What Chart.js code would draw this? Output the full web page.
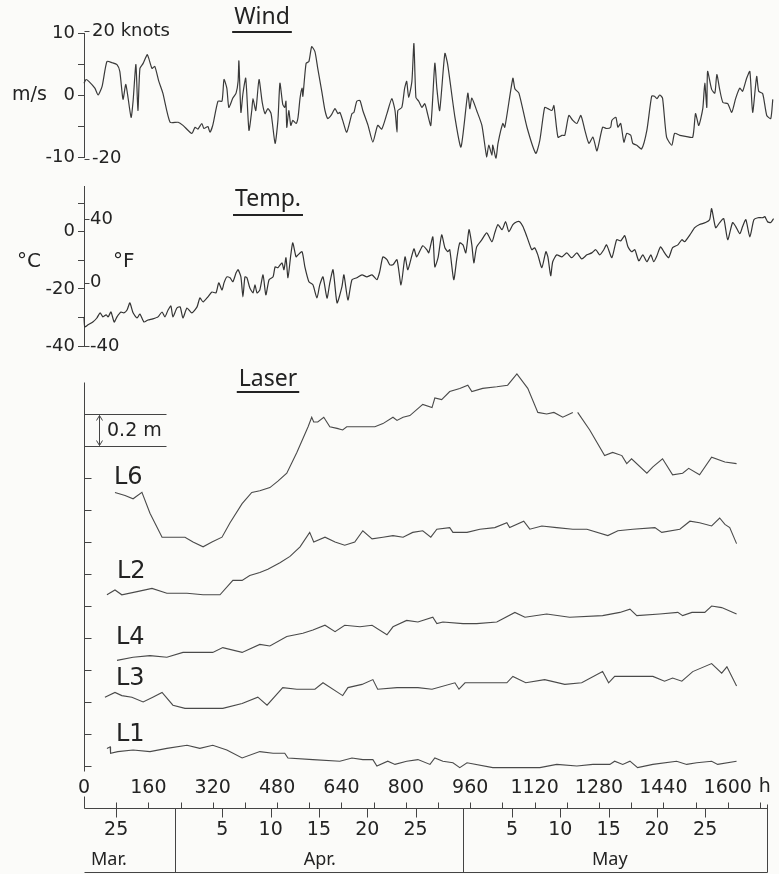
<!DOCTYPE html>
<html>
<head>
<meta charset="utf-8">
<title>Wind, temperature and laser records</title>
<script src="https://cdn.jsdelivr.net/npm/chart.js@4.4.1/dist/chart.umd.min.js"></script>
<style>
  body { margin: 0; background: #fbfbf9; }
  #page { position: relative; width: 779px; height: 874px; overflow: hidden; }
  #page canvas { position: absolute; left: 0; }
</style>
</head>
<body>
<div id="page">
  <canvas id="wind-chart" width="779" height="200" style="top:0"></canvas>
  <canvas id="temp-chart" width="779" height="220" style="top:160px"></canvas>
  <canvas id="laser-chart" width="779" height="514" style="top:360px"></canvas>
</div>
<script>
// --- dados (tempo em horas desde o inicio) ---
const windHours = [0,5,12,27,35,45,57,70,82,89,
  97,104,117,122,129,134,139,147,157,161,
  169,176,186,196,214,234,246,268,276,283,
  293,298,308,313,320,333,343,348,355,360,
  370,378,383,385,390,395,402,410,417,420,
  427,435,443,450,457,465,475,482,487,494,
  499,502,504,509,514,519,527,532,537,542,
  544,552,559,566,574,581,591,599,606,614,
  624,631,636,643,653,666,671,678,686,693,
  706,718,730,740,753,765,773,778,780,790,
  797,802,807,815,820,825,832,840,847,852,
  862,872,877,884,897,904,922,937,954,959,
  964,976,989,1001,1006,1014,1016,1024,1029,1041,
  1046,1066,1071,1081,1101,1123,1133,1145,1153,1163,
  1168,1178,1188,1195,1205,1215,1225,1235,1245,1255,
  1265,1275,1289,1299,1309,1312,1322,1327,1334,1342,
  1349,1359,1364,1374,1386,1399,1411,1418,1424,1431,
  1438,1448,1461,1468,1481,1498,1513,1520,1528,1538,
  1543,1548,1550,1560,1568,1573,1580,1588,1600,1610,
  1620,1630,1637,1647,1655,1662,1672,1677,1687,1697,
  1707,1712];
const windMs = [1.9,2.5,2.2,1.1,0,1.4,5.4,5.2,4.9,3.8,
  -0.7,1.7,-3.6,-1,4.9,-2.5,4.3,5.1,6.5,5.9,
  4.3,4.6,2.2,0.3,-4.4,-4.4,-4.9,-6.2,-5.2,-5.5,
  -4.6,-5.4,-5.1,-6,-4.9,-1,-1,2.5,1.1,-2,
  -0.5,0.3,2.2,5.5,-2.8,0.2,2.7,-5.7,-2.5,-0.6,
  -2.5,2.5,-1.2,-3,-2.2,-3,-7.8,-4.1,1.9,-1.5,
  -2,-1,-5.2,-2.5,-4.9,-4.1,-4.6,-3.6,-0.5,1.1,
  -0.2,5.1,5.4,7.8,7,4.3,0.6,-2.5,-3.8,-3.3,
  -2.2,-3,-2.8,-4.1,-6,-3,-2.8,-1,-0.9,-2.5,
  -4.9,-7.6,-4.9,-5.5,-3,-0.6,-2.5,-6,-2.5,-2,
  1.1,2.2,-0.4,2.2,8.3,-0.4,-1,-2,-1.4,-2.5,
  -4.9,5.1,1.1,-2.5,6.7,4.9,-3.6,-8.4,0.3,-2.2,
  -0.5,-2.5,-4.9,-10,-8.1,-9.7,-8.1,-10.2,-7.8,-4.6,
  -5.2,2.7,1,0.3,-5.2,-9.4,-7.3,-2,-2.2,-2.5,
  -1.7,-6.8,-6.5,-6.5,-3.3,-4.1,-4.6,-3.3,-5.7,-7.8,
  -6.8,-9,-5.2,-5.4,-5.2,-4.1,-3.6,-5.2,-4.6,-7.6,
  -6.2,-6.5,-7.8,-8.1,-8.7,-5.7,-0.2,-0.2,-0.6,0,
  -0.5,-6.8,-8.1,-6.2,-6.5,-6.7,-6.8,-3,-4.9,-2.2,
  1.9,-2,3.8,0.9,0.3,3.3,0.9,-1.2,-1.4,-2.8,
  -0.5,1.1,0.6,2.7,3.8,-2.8,3,0.6,0.2,-3.3,
  -3.8,-0.7];

const tempHours = [0,2,10,22,32,40,47,55,60,67,
  75,82,92,99,107,114,122,132,139,149,
  159,171,184,194,201,209,216,221,231,239,
  246,256,268,281,288,296,308,318,328,335,
  343,348,355,363,370,378,383,390,395,400,
  405,412,420,425,430,437,445,452,460,470,
  475,482,492,497,502,507,514,519,527,532,
  542,549,559,569,579,586,594,604,611,619,
  629,641,646,656,666,678,691,703,716,728,
  735,743,753,760,768,778,788,798,805,820,
  827,842,852,857,867,872,880,889,897,904,
  909,919,927,934,942,949,957,964,969,976,
  989,1001,1014,1021,1029,1039,1048,1056,1066,1076,
  1083,1091,1101,1113,1120,1128,1138,1148,1153,1160,
  1165,1175,1188,1200,1212,1225,1237,1250,1262,1272,
  1282,1292,1299,1312,1324,1334,1344,1352,1361,1369,
  1379,1389,1399,1409,1416,1424,1433,1443,1453,1463,
  1476,1486,1493,1506,1518,1530,1545,1555,1560,1570,
  1580,1590,1600,1612,1620,1630,1637,1645,1655,1665,
  1675,1687,1692,1699,1707,1714];
const tempC = [-29.8,-33.3,-32.6,-31.6,-30.2,-28.4,-29.8,-29.1,-29.8,-28.1,
  -31.6,-29.8,-28.1,-28.4,-27.4,-24.9,-28.4,-30.2,-28.8,-31.6,
  -30.9,-30.5,-29.8,-28.1,-29.8,-27.4,-26,-29.8,-26.7,-26.3,
  -30.2,-26.7,-28.4,-26.3,-23.2,-24.6,-22.8,-21.1,-21.4,-17.9,
  -20.4,-17.9,-15.8,-16.1,-17.5,-14.4,-13.3,-15.8,-22.8,-15.8,
  -16.1,-19.6,-21.4,-18.6,-21.4,-20.4,-15.1,-22.1,-16.8,-15.8,
  -12.3,-12.6,-10.9,-13.3,-9.1,-16.1,-8.1,-3.9,-8.8,-8.1,
  -7,-12.3,-17.5,-18.6,-23.2,-18.6,-15.8,-23.2,-17.9,-13.3,
  -24.9,-19.3,-15.1,-23.9,-16.8,-16.1,-15.1,-15.8,-15.1,-16.8,
  -14,-8.8,-9.8,-11.6,-11.6,-9.8,-18.6,-8.8,-13.3,-6,
  -8.8,-4.9,-6.3,-7.4,-1.8,-12.3,-9.1,-1.1,-5.6,-7,
  -6.3,-16.8,-9.1,-3.9,-4.6,-7.4,0.7,-4.6,-10.9,-5.3,
  -2.8,-0.4,-3.5,-0.4,2.5,0.7,3.5,0,2.5,3.5,
  3.5,1.8,-1.8,-6.3,-5.6,-8.1,-12.6,-7,-8.8,-15.4,
  -10.5,-8.1,-8.8,-7.4,-9.1,-7.4,-9.5,-8.1,-7.4,-6.3,
  -8.1,-6.3,-4.6,-9.1,-2.8,-3.2,-1.4,-5.3,-7,-6.3,
  -10.2,-8.1,-10.5,-8.1,-10.5,-8.4,-5.3,-7.4,-9.1,-5.6,
  -4.6,-2.8,-3.5,-1.1,1.4,2.5,3.2,4.2,8.1,1.4,
  3.2,4.6,-2.8,3.2,1.8,-0.7,1.8,4.2,-1.8,4.2,
  4.9,4.9,5.3,3.5,3.2,4.6];

// laser: altura relativa em metros (cada curva com seu proprio deslocamento)
const l6Hours = [77,102,122,144,164,194,214,226,251,271,
  296,318,343,363,393,417,437,462,482,504,
  529,557,566,571,581,596,611,629,643,653,
  686,723,743,768,778,793,810,842,865,872,
  889,909,934,954,964,991,1026,1053,1076,1103,
  1128,1150,1168,1190,1215,1221,1227,1257,1294,1314,
  1337,1349,1361,1399,1414,1438,1463,1488,1503,1530,
  1560,1593,1622];
const l6Metres = [1.71,1.69,1.67,1.71,1.58,1.43,1.43,1.43,1.43,1.40,
  1.37,1.40,1.43,1.52,1.64,1.71,1.72,1.74,1.78,1.83,
  1.96,2.12,2.18,2.15,2.15,2.18,2.12,2.11,2.10,2.12,
  2.12,2.12,2.14,2.18,2.16,2.18,2.19,2.26,2.24,2.30,
  2.29,2.34,2.36,2.38,2.34,2.36,2.37,2.38,2.45,2.36,
  2.21,2.20,2.21,2.18,2.21,null,2.21,2.10,1.94,1.96,
  1.94,1.89,1.92,1.83,1.87,1.92,1.82,1.83,1.86,1.82,
  1.93,1.90,1.89];
const l2Hours = [57,77,94,132,169,206,256,296,338,370,
  393,412,437,457,487,512,537,561,571,599,
  624,648,673,693,716,743,768,793,817,842,
  862,877,909,917,952,984,1021,1051,1058,1093,
  1108,1138,1175,1215,1250,1302,1327,1364,1419,1436,
  1481,1506,1530,1560,1580,1593,1605,1622];
const l2Metres = [1.07,1.10,1.07,1.09,1.11,1.08,1.08,1.07,1.07,1.16,
  1.16,1.19,1.21,1.23,1.27,1.31,1.37,1.46,1.40,1.43,
  1.40,1.38,1.40,1.47,1.42,1.43,1.44,1.43,1.46,1.47,
  1.43,1.48,1.49,1.46,1.46,1.48,1.49,1.52,1.49,1.53,
  1.48,1.50,1.49,1.48,1.48,1.44,1.47,1.48,1.49,1.46,
  1.48,1.53,1.52,1.50,1.55,1.51,1.49,1.39];
const l4Hours = [82,122,164,206,246,288,320,345,393,437,
  462,504,544,569,599,624,648,686,716,753,
  768,802,830,867,877,892,942,976,1026,1071,
  1096,1150,1207,1289,1332,1357,1374,1431,1476,1488,
  1511,1543,1560,1585,1622];
const l4Metres = [0.66,0.68,0.69,0.68,0.71,0.71,0.71,0.74,0.71,0.76,
  0.75,0.81,0.83,0.85,0.88,0.84,0.88,0.87,0.88,0.82,
  0.87,0.91,0.90,0.93,0.89,0.90,0.89,0.89,0.90,0.96,
  0.93,0.95,0.93,0.94,0.96,0.98,0.94,0.95,0.96,0.94,
  0.96,0.96,1.00,0.99,0.95];
const l3Hours = [52,77,94,119,147,171,194,221,251,296,
  345,393,432,455,494,529,574,594,643,656,
  691,718,730,778,830,865,922,932,947,984,
  1051,1066,1098,1145,1195,1237,1289,1304,1319,1414,
  1443,1463,1486,1513,1560,1585,1598,1622];
const l3Metres = [0.43,0.46,0.44,0.43,0.40,0.43,0.46,0.38,0.36,0.36,
  0.36,0.39,0.43,0.38,0.49,0.48,0.48,0.52,0.44,0.49,
  0.51,0.54,0.48,0.49,0.49,0.48,0.52,0.48,0.52,0.52,
  0.52,0.56,0.52,0.54,0.51,0.52,0.59,0.52,0.56,0.56,
  0.53,0.55,0.53,0.59,0.64,0.58,0.62,0.50];
const l1Hours = [57,65,66,84,122,164,206,256,288,320,
  355,393,437,470,499,507,569,636,666,693,
  718,728,755,773,802,830,860,872,892,917,
  934,952,1016,1083,1133,1175,1225,1265,1307,1319,
  1339,1357,1376,1414,1473,1498,1523,1560,1575,1622];
const l1Metres = [0.11,0.12,0.08,0.09,0.10,0.09,0.11,0.13,0.11,0.13,
  0.10,0.05,0.09,0.08,0.08,0.05,0.04,0.03,0.05,0.04,
  0.04,0.00,0.03,0.01,0.03,0.04,0.01,0.05,0.03,0.02,
  -0.01,0.02,-0.01,-0.01,-0.01,0.01,0.00,0.01,0.01,0.03,
  0.01,0.03,-0.01,0.01,0.03,0.01,0.02,0.03,0.01,0.03];

// eixos e rotulos
const windTicks = [-10, -5, 0, 5, 10];
const windTickLabels = [-10, 0, 10];
const knotTicks = [20, -20];
const knotLabels = ['20 knots', '-20'];
const tempTicks = [-40, -30, -20, -10, 0, 10];
const tempTickLabels = [-40, -20, 0];
const fahrenheitTicks = [40, 0, -40];
const laserTicks = [0, 0.2, 0.4, 0.6, 0.8, 1.0, 1.2, 1.4, 1.6, 1.8, 2.0, 2.2];
const hourLabels = [0, 160, 320, 480, 640, 800, 960, 1120, 1280, 1440, 1600];
const hourTickStep = 80;
const dateTickHours = [80, 344, 464, 584, 704, 824, 1064, 1184, 1304, 1424, 1544];
const dateTickLabels = ['25', '5', '10', '15', '20', '25', '5', '10', '15', '20', '25'];
const monthBreakHours = [226, 942];
const monthNames = ['Mar.', 'Apr.', 'May'];
const monthCentreHours = [62, 586, 1307];
const recordEndHour = 1697;

const FONT = '"Noto Sans", "DejaVu Sans", sans-serif';
const NUM_FONT = '"DejaVu Sans", sans-serif';
const INK = '#232323';
const HOUR_MAX = 1720;
const KNOTS_PER_MS = 1.944;

// --- utilitarios de desenho ---
function seg(ctx, x1, y1, x2, y2) {
    ctx.beginPath();
    ctx.moveTo(Math.round(x1) + 0.5, Math.round(y1) + 0.5);
    ctx.lineTo(Math.round(x2) + 0.5, Math.round(y2) + 0.5);
    ctx.stroke();
}

function text(ctx, s, x, y, size, align, family) {
    ctx.save();
    ctx.font = size + 'px ' + (family || NUM_FONT);
    ctx.fillStyle = INK;
    ctx.textAlign = align || 'left';
    ctx.textBaseline = 'middle';
    ctx.fillText(s, x, y);
    ctx.restore();
}

function title(ctx, s, cx, cy, lineY) {
    text(ctx, s, cx, cy, 23, 'center', FONT);
    ctx.save();
    ctx.font = '23px ' + FONT;
    const w = ctx.measureText(s).width;
    ctx.strokeStyle = INK;
    ctx.lineWidth = 2;
    ctx.beginPath();
    ctx.moveTo(cx - w / 2 - 2, lineY);
    ctx.lineTo(cx + w / 2 + 2, lineY);
    ctx.stroke();
    ctx.restore();
}

function seriesPoints(hours, values) {
    return hours.map((h, i) => ({ x: h, y: values[i] }));
}

function lineSet(hours, values, colour, width, tension) {
    return {
        data: seriesPoints(hours, values),
        borderColor: colour,
        borderWidth: width,
        pointRadius: 0,
        tension: tension || 0,
        spanGaps: false,
        clip: false
    };
}

function hourAxis() {
    return { type: 'linear', min: 0, max: HOUR_MAX, display: false };
}

function leftAxis(min, max, ticks, labelled) {
    return {
        min: min,
        max: max,
        afterBuildTicks: s => { s.ticks = ticks.map(v => ({ value: v })); },
        afterFit: s => { s.width = 84; },
        ticks: {
            autoSkip: false,
            padding: 3,
            color: INK,
            font: { family: NUM_FONT, size: 18 },
            callback: v => labelled.includes(v) ? String(v) : ''
        },
        grid: { drawOnChartArea: false, tickLength: 6, color: '#444' },
        border: { color: '#444' }
    };
}

const baseOptions = padding => ({
    responsive: false,
    animation: false,
    events: [],
    layout: { padding: padding },
    plugins: { legend: { display: false }, tooltip: { enabled: false } }
});

// --- painel do vento ---
const windExtras = {
    id: 'windExtras',
    afterDraw(chart) {
        const ctx = chart.ctx, y = chart.scales.y, left = chart.chartArea.left;
        title(ctx, 'Wind', 262, 17, 32);
        text(ctx, 'm/s', 12, 95, 19);
        ctx.save();
        ctx.strokeStyle = '#444';
        knotTicks.forEach((k, i) => {
            const py = y.getPixelForValue(k / KNOTS_PER_MS);
            seg(ctx, left, py, left + 5, py);
            text(ctx, knotLabels[i], left + 8, py, 18);
        });
        ctx.restore();
    }
};

new Chart(document.getElementById('wind-chart'), {
    type: 'line',
    data: { datasets: [lineSet(windHours, windMs, '#3a3a3a', 1.2, 0.2)] },
    options: Object.assign(baseOptions({ left: 0, right: 3, top: 33, bottom: 43 }), {
        scales: { x: hourAxis(), y: leftAxis(-10, 10, windTicks, windTickLabels) }
    }),
    plugins: [windExtras]
});

// --- painel da temperatura ---
const tempExtras = {
    id: 'tempExtras',
    afterDraw(chart) {
        const ctx = chart.ctx, y = chart.scales.y, left = chart.chartArea.left;
        title(ctx, 'Temp.', 268, 39, 55);
        text(ctx, '°C', 17, 102, 20);
        text(ctx, '°F', 113, 102, 20);
        ctx.save();
        ctx.strokeStyle = '#444';
        fahrenheitTicks.forEach(f => {
            const py = y.getPixelForValue((f - 32) * 5 / 9);
            seg(ctx, left, py, left + 5, py);
            text(ctx, String(f), left + 6, py, 18);
        });
        ctx.restore();
    }
};

new Chart(document.getElementById('temp-chart'), {
    type: 'line',
    data: { datasets: [lineSet(tempHours, tempC, '#333', 1.2, 0.2)] },
    options: Object.assign(baseOptions({ left: 0, right: 3, top: 26, bottom: 34 }), {
        scales: { x: hourAxis(), y: leftAxis(-40, 16, tempTicks, tempTickLabels) }
    }),
    plugins: [tempExtras]
});

// --- painel do laser + eixos de tempo ---
const laserExtras = {
    id: 'laserExtras',
    afterDraw(chart) {
        const ctx = chart.ctx, x = chart.scales.x, y = chart.scales.y;
        const left = chart.chartArea.left, base = chart.chartArea.bottom, floor = chart.height - 2;
        ctx.save();
        ctx.strokeStyle = '#444';
        ctx.lineWidth = 1;

        // eixo vertical com marcas para dentro
        seg(ctx, left, y.getPixelForValue(2.4), left, y.getPixelForValue(-0.03));
        laserTicks.forEach(v => {
            const py = y.getPixelForValue(v);
            seg(ctx, left, py, left + 7, py);
        });

        // escala de 0.2 m
        const yTop = y.getPixelForValue(2.2), yBot = y.getPixelForValue(2.0);
        seg(ctx, left, yTop, left + 82, yTop);
        seg(ctx, left, yBot, left + 82, yBot);
        const ax = left + 15;
        seg(ctx, ax, yTop + 1, ax, yBot - 1);
        seg(ctx, ax - 3, yTop + 6, ax, yTop + 1);
        seg(ctx, ax + 3, yTop + 6, ax, yTop + 1);
        seg(ctx, ax - 3, yBot - 6, ax, yBot - 1);
        seg(ctx, ax + 3, yBot - 6, ax, yBot - 1);
        text(ctx, '0.2 m', left + 23, (yTop + yBot) / 2 + 1, 19);

        title(ctx, 'Laser', 268, 19, 32);
        text(ctx, 'L6', 114, 118, 24);
        text(ctx, 'L2', 117, 212, 24);
        text(ctx, 'L4', 116, 278, 24);
        text(ctx, 'L3', 116, 319, 24);
        text(ctx, 'L1', 116, 375, 24);

        // eixo das horas (rotulos acima da linha)
        const xEnd = x.getPixelForValue(recordEndHour);
        seg(ctx, x.getPixelForValue(0), base, xEnd, base);
        for (let h = 0; h <= 1680; h += hourTickStep) {
            const px = x.getPixelForValue(h);
            seg(ctx, px, base, px, base - (h === 0 ? 12 : 6));
        }
        hourLabels.forEach(h => text(ctx, String(h), x.getPixelForValue(h), base - 20, 19, 'center'));
        text(ctx, 'h', x.getPixelForValue(1600) + 31, base - 21, 19);

        // eixo das datas (abaixo da linha)
        dateTickHours.forEach((h, i) => {
            const px = x.getPixelForValue(h);
            seg(ctx, px, base, px, base + 9);
            text(ctx, dateTickLabels[i], px, base + 22, 19, 'center');
        });
        monthBreakHours.forEach(h => {
            const px = x.getPixelForValue(h);
            seg(ctx, px, base, px, floor);
        });
        seg(ctx, xEnd, base - 4, xEnd, floor);
        seg(ctx, x.getPixelForValue(0), floor, xEnd, floor);
        monthNames.forEach((m, i) => text(ctx, m, x.getPixelForValue(monthCentreHours[i]), base + 52, 18, 'center', FONT));
        ctx.restore();
    }
};

const laserColour = '#4a4a4a';
new Chart(document.getElementById('laser-chart'), {
    type: 'line',
    data: {
        datasets: [
            lineSet(l6Hours, l6Metres, laserColour, 1.1),
            lineSet(l2Hours, l2Metres, laserColour, 1.1),
            lineSet(l4Hours, l4Metres, laserColour, 1.1),
            lineSet(l3Hours, l3Metres, laserColour, 1.1),
            lineSet(l1Hours, l1Metres, laserColour, 1.1)
        ]
    },
    options: Object.assign(baseOptions({ left: 84, right: 3, top: 22, bottom: 66 }), {
        scales: { x: hourAxis(), y: { min: -0.2625, max: 2.4, display: false } }
    }),
    plugins: [laserExtras]
});
</script>
</body>
</html>
